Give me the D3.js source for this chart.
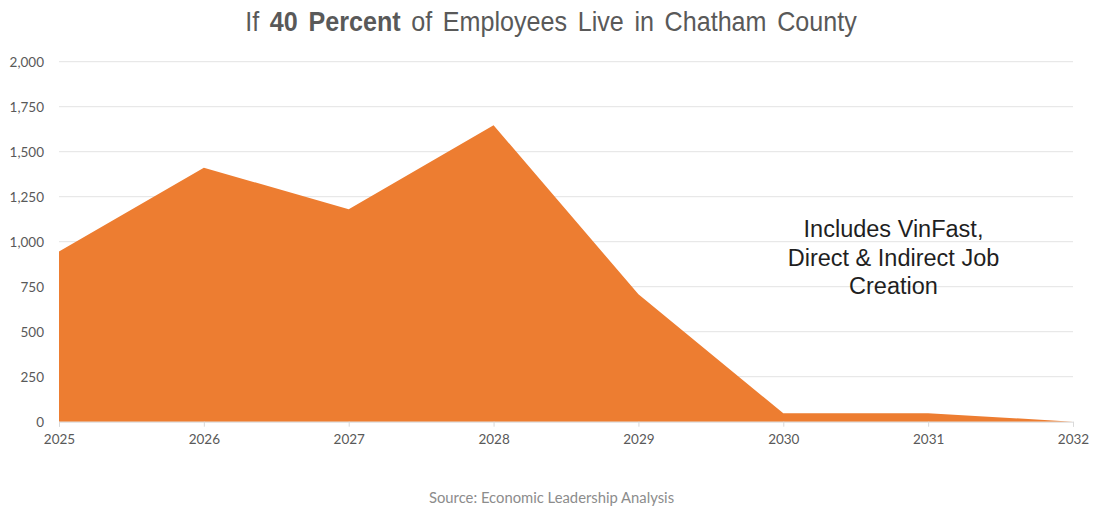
<!DOCTYPE html>
<html>
<head>
<meta charset="utf-8">
<script src="https://cdn.jsdelivr.net/npm/d3@7"></script>
<style>
  html, body { margin: 0; padding: 0; background: #fff; }
  svg { display: block; }
</style>
</head>
<body>
<svg id="chart" width="1095" height="508"></svg>
<script>
// Projected jobs held by Chatham County residents, by year
const years = [2025, 2026, 2027, 2028, 2029, 2030, 2031, 2032];
const jobs = [945, 1411, 1180, 1647, 708, 47, 47, 0];
const yTicks = [0, 250, 500, 750, 1000, 1250, 1500, 1750, 2000];
const noteLines = ["Includes VinFast,", "Direct & Indirect Job", "Creation"];

const svg = d3.select("#chart");
const margin = { left: 59, right: 22, top: 61.7, bottom: 86.3 };
const W = 1095, H = 508;

const x = d3.scaleLinear().domain([2025, 2032]).range([margin.left, W - margin.right]);
const y = d3.scaleLinear().domain([0, 2000]).range([H - margin.bottom, margin.top]);

const tickFont = "Lato, 'Open Sans', sans-serif";

// Horizontal gridlines (the zero line is drawn as the axis)
svg.append("g")
  .selectAll("line")
  .data(yTicks.filter(d => d > 0))
  .join("line")
  .attr("x1", x(2025)).attr("x2", x(2032))
  .attr("y1", d => y(d)).attr("y2", d => y(d))
  .attr("stroke", "#e3e3e3").attr("stroke-width", 1);

// Filled area
const data = years.map((yr, i) => ({ yr, v: jobs[i] }));
svg.append("path")
  .datum(data)
  .attr("fill", "#ED7D31")
  .attr("d", d3.area().x(d => x(d.yr)).y0(y(0)).y1(d => y(d.v)));

// Y axis labels
const yAxis = d3.axisLeft(y).tickValues(yTicks).tickSize(0).tickPadding(15)
  .tickFormat(d3.format(","));
const gy = svg.append("g").attr("transform", `translate(${margin.left},0)`).call(yAxis);
gy.select(".domain").remove();
gy.selectAll("text").attr("fill", "#595959").style("font-family", tickFont).style("font-size", "13.5px");

// X axis
const xAxis = d3.axisBottom(x).tickValues(years).tickSize(5).tickPadding(8).tickFormat(d3.format("d"));
const gx = svg.append("g").attr("transform", `translate(0,${y(0)})`).call(xAxis);
gx.select(".domain").attr("stroke", "#d9d9d9");
gx.selectAll(".tick line").attr("stroke", "#d9d9d9");
gx.selectAll("text").attr("fill", "#595959").style("font-family", tickFont).style("font-size", "13.5px");

// Title, set in a slightly condensed face
const titleG = svg.append("g");
const title = titleG.append("text")
  .attr("x", 0).attr("y", 0)
  .attr("text-anchor", "middle")
  .attr("fill", "#595959")
  .style("font-family", "'Liberation Sans', Arial, sans-serif")
  .style("font-size", "27.5px")
  .style("word-spacing", "4px");
title.append("tspan").text("If ");
title.append("tspan").attr("font-weight", "bold").text("40 Percent");
title.append("tspan").text(" of Employees Live in Chatham County");
const tw = title.node().getBBox().width;
titleG.attr("transform", `translate(551,31) scale(${612 / tw},1)`);

// Annotation
const note = svg.append("text")
  .attr("text-anchor", "middle")
  .attr("fill", "#1f1f1f")
  .style("font-family", "'Liberation Sans', Arial, sans-serif")
  .style("font-size", "23.5px");
note.selectAll("tspan")
  .data(noteLines)
  .join("tspan")
  .attr("x", 893.5)
  .attr("y", (d, i) => 237.3 + i * 28.5)
  .text(d => d);

// Source
svg.append("text")
  .attr("x", 551.5).attr("y", 503)
  .attr("text-anchor", "middle")
  .attr("fill", "#8c8c8c")
  .style("font-family", tickFont)
  .style("font-size", "14.8px")
  .text("Source: Economic Leadership Analysis");
</script>
</body>
</html>
